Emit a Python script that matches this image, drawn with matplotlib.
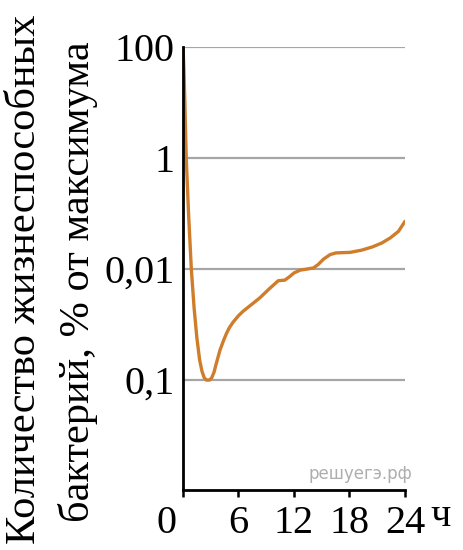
import matplotlib
matplotlib.use("Agg")
import matplotlib.pyplot as plt
import matplotlib.transforms as mtransforms

# Data (y in grid-level units: 0 -> "0,1", 1 -> "0,01", 2 -> "1", 3 -> "100")
hours = [0, 0.1, 0.2, 0.35, 0.6, 0.9, 1.2, 1.5, 1.8, 2.05, 2.3, 2.55, 2.85, 3.1, 3.35,
         3.6, 4.0, 4.4, 4.7, 5.0, 5.4, 6.0, 6.5, 7.4, 8.3, 9.3, 10.3, 11.0, 11.5,
         12.0, 12.65, 13.4, 14.1, 14.6, 15.2, 15.9, 16.5, 17.3, 18.05, 19.3, 20.5,
         21.5, 22.4, 23.3, 24.0]
level = [3.0, 2.8, 2.5, 2.0, 1.5, 1.0, 0.65, 0.38, 0.18, 0.08, 0.02, 0.0, 0.0, 0.02, 0.07,
         0.15, 0.27, 0.36, 0.42, 0.47, 0.52, 0.58, 0.62, 0.68, 0.74, 0.82, 0.895, 0.9, 0.93,
         0.965, 0.99, 1.0, 1.01, 1.04, 1.09, 1.13, 1.145, 1.148, 1.15, 1.17, 1.20,
         1.235, 1.28, 1.34, 1.43]
x_ticks = [0, 6, 12, 18, 24]
x_labels = ["0", "6", "12", "18", "24"]
y_ticks = [3, 2, 1, 0]
y_labels = ["100", "1", "0,01", "0,1"]

plt.rcParams['font.family'] = ['Liberation Serif', 'DejaVu Serif']

fig = plt.figure(figsize=(4.63, 5.5), dpi=100)
ax = fig.add_axes([183/463, 1-490/550, (405-183)/463, (490-47)/550])

for yt in y_ticks:
    ax.axhline(yt, color='#a6a6a6', lw=1.6, zorder=1)

ax.plot(hours, level, color='#cf7d2a', lw=2.4, zorder=3,
        solid_capstyle='round', solid_joinstyle='round')

ax.set_xlim(0, 24)
ax.set_ylim(-0.99, 3)
for s in ['top', 'right']:
    ax.spines[s].set_visible(False)
ax.spines['left'].set_linewidth(2.0)
ax.spines['bottom'].set_linewidth(2.0)
ax.spines['left'].set_zorder(4)

ax.set_xticks(x_ticks)
ax.set_xticklabels(x_labels, fontsize=29)
ax.tick_params(axis='x', length=5, width=1.8, pad=6)
ax.set_yticks(y_ticks)
ax.set_yticklabels(y_labels, fontsize=29)
ax.tick_params(axis='y', length=0, pad=6)

# shift "0" label left
lab0 = ax.get_xticklabels()[0]
lab0.set_transform(lab0.get_transform() + mtransforms.ScaledTranslation(-16/100, 0, fig.dpi_scale_trans))

fig.text(441/463, 1-517/550, "ч", fontsize=29, ha='center', va='center')

fig.text(25/463, 1-279/550, "Количество жизнеспособных", fontsize=30.5, rotation=90,
         ha='center', va='center')
fig.text(78/463, 1-282/550, "бактерий, % от максимума", fontsize=30.5, rotation=90,
         ha='center', va='center')

fig.text(360/463, 1-474/550, "решуегэ.рф", fontsize=12, color='#9a9a9a', alpha=0.8,
         ha='center', va='center', family='DejaVu Sans')

fig.savefig("out.png", dpi=100)
